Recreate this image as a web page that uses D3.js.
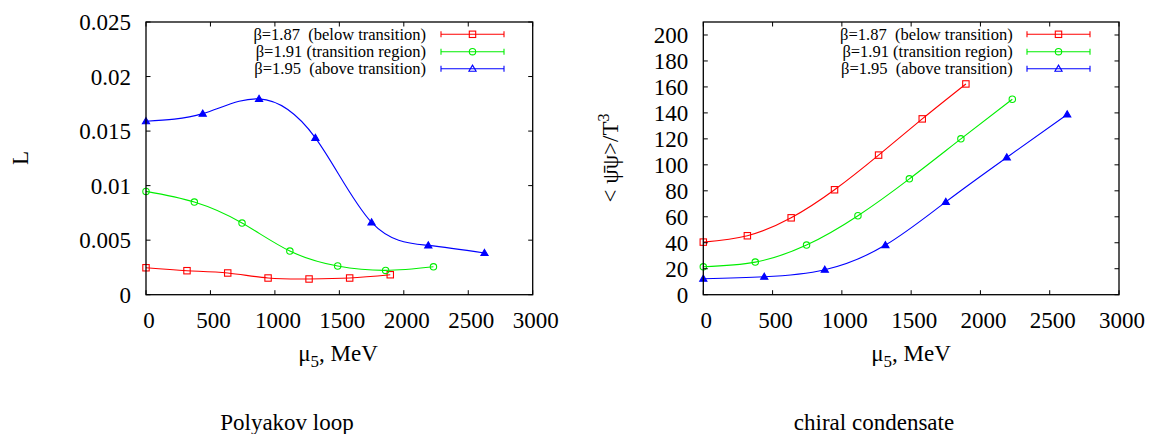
<!DOCTYPE html>
<html><head><meta charset="utf-8">
<script src="https://cdn.jsdelivr.net/npm/d3@7"></script>
<style>
html,body{margin:0;padding:0;background:#fff;}
svg{display:block;}
svg text{font-family:'Liberation Serif','DejaVu Serif',serif;fill:#000;white-space:pre;}
</style></head>
<body>
<svg id="chart" width="1150" height="434" font-family="Liberation Serif, DejaVu Serif, serif"></svg>
<script>
// ---- data ----
const seriesNames = ["β=1.87  (below transition)", "β=1.91 (transition region)", "β=1.95  (above transition)"];
const seriesColors = ["#ff0000", "#00ee00", "#0000ff"];
const mu5Red   = [0, 318, 634, 947, 1265, 1580, 1895];
const mu5Green = [0, 375, 745, 1116, 1487, 1859, 2230];
const mu5Blue  = [0, 440, 877, 1314, 1750, 2190, 2626];
const loopRed   = [0.00247, 0.00220, 0.00199, 0.00153, 0.00144, 0.00153, 0.00183];
const loopGreen = [0.00947, 0.00849, 0.00657, 0.00400, 0.00263, 0.00223, 0.00256];
const loopBlue  = [0.0159, 0.0166, 0.01795, 0.01438, 0.00663, 0.00452, 0.00382];
const condRed   = [40.5, 45.4, 59.2, 80.8, 107.5, 135.4, 162.3];
const condGreen = [21.5, 25.1, 38.2, 60.8, 89.2, 120.0, 150.5];
const condBlue  = [12.3, 13.8, 19.2, 38.2, 71.5, 105.7, 138.8];
const xTicks = [0, 500, 1000, 1500, 2000, 2500, 3000];
const loopTicks = [0, 0.005, 0.01, 0.015, 0.02, 0.025];
const loopTickLabels = ["0", "0.005", "0.01", "0.015", "0.02", "0.025"];
const condTicks = [0, 20, 40, 60, 80, 100, 120, 140, 160, 180, 200];

const FONT = "Liberation Serif, DejaVu Serif, serif";
const svg = d3.select("#chart");

function txt(g) { return g.append("text").attr("font-family", FONT); }

function panel(opt) {
  const g = svg.append("g");
  const x = d3.scaleLinear().domain([0, 3000]).range([opt.left, opt.right]);
  const y = d3.scaleLinear().domain(opt.ydomain).range([opt.bottom, opt.top]);
  const tl = 4.5;

  const markers = ["square", "circle", "triangle"];
  opt.series.forEach((s, i) => {
    const pts = s.x.map((v, k) => [v, s.y[k]]);
    const line = d3.line().x(d => x(d[0])).y(d => y(d[1])).curve(d3.curveNatural);
    g.append("path").attr("d", line(pts)).attr("fill", "none")
      .attr("stroke", seriesColors[i]).attr("stroke-width", 1.1);
    pts.forEach(p => drawMarker(g, markers[i], x(p[0]), y(p[1]), seriesColors[i], false));
  });

  g.append("rect").attr("x", opt.left).attr("y", opt.top)
    .attr("width", opt.right - opt.left).attr("height", opt.bottom - opt.top)
    .attr("fill", "none").attr("stroke", "#000").attr("stroke-width", 1.3);

  xTicks.forEach(t => {
    const px = x(t);
    g.append("line").attr("x1", px).attr("x2", px).attr("y1", opt.bottom).attr("y2", opt.bottom - tl).attr("stroke", "#000");
    g.append("line").attr("x1", px).attr("x2", px).attr("y1", opt.top).attr("y2", opt.top + tl).attr("stroke", "#000");
    txt(g).attr("x", px + 3).attr("y", 328).attr("text-anchor", "middle")
      .attr("font-size", 23).text(t);
  });
  opt.yticks.forEach((t, k) => {
    const py = y(t);
    g.append("line").attr("x1", opt.left).attr("x2", opt.left + tl).attr("y1", py).attr("y2", py).attr("stroke", "#000");
    g.append("line").attr("x1", opt.right).attr("x2", opt.right - tl).attr("y1", py).attr("y2", py).attr("stroke", "#000");
    txt(g).attr("x", opt.left - 15).attr("y", py + 8).attr("text-anchor", "end")
      .attr("font-size", 23).text(opt.ytickLabels ? opt.ytickLabels[k] : t);
  });

  const xl = txt(g).attr("x", opt.xlabelX).attr("y", 361).attr("text-anchor", "middle").attr("font-size", 23);
  xl.append("tspan").text("μ");
  xl.append("tspan").attr("font-size", 17).attr("dy", 6).text("5");
  xl.append("tspan").attr("dy", -6).text(", MeV");

  txt(g).attr("x", opt.captionX).attr("y", 430).attr("text-anchor", "middle")
    .attr("font-size", 23).text(opt.caption);

  const rows = [34.3, 51.7, 68.7];
  seriesNames.forEach((n, i) => {
    txt(g).attr("x", opt.legTextX).attr("y", rows[i] + 5.5).attr("text-anchor", "end")
      .attr("font-size", 16.5).attr("xml:space", "preserve").text(n);
    g.append("line").attr("x1", opt.legX1).attr("x2", opt.legX2).attr("y1", rows[i]).attr("y2", rows[i])
      .attr("stroke", seriesColors[i]).attr("stroke-width", 1.1);
    [opt.legX1, opt.legX2].forEach(ex => g.append("line").attr("x1", ex).attr("x2", ex)
      .attr("y1", rows[i] - 3).attr("y2", rows[i] + 3).attr("stroke", seriesColors[i]).attr("stroke-width", 1.1));
    drawMarker(g, markers[i], (opt.legX1 + opt.legX2) / 2, rows[i], seriesColors[i], true);
  });
  return g;
}

function drawMarker(g, type, cx, cy, color, legend) {
  if (type === "square") {
    g.append("rect").attr("x", cx - 3.2).attr("y", cy - 3.2).attr("width", 6.4).attr("height", 6.4)
      .attr("fill", "none").attr("stroke", color).attr("stroke-width", 1.1);
  } else if (type === "circle") {
    g.append("circle").attr("cx", cx).attr("cy", cy).attr("r", 3.2)
      .attr("fill", "none").attr("stroke", color).attr("stroke-width", 1.1);
  } else {
    const s = 3.6;
    g.append("path").attr("d", `M${cx},${cy - s}L${cx + s},${cy + s * 0.7}L${cx - s},${cy + s * 0.7}Z`)
      .attr("fill", legend ? "none" : color).attr("stroke", color).attr("stroke-width", 1.1);
  }
}

panel({
  left: 146, right: 532.7, top: 22, bottom: 294.7,
  ydomain: [0, 0.025], yticks: loopTicks, ytickLabels: loopTickLabels,
  series: [{x: mu5Red, y: loopRed}, {x: mu5Green, y: loopGreen}, {x: mu5Blue, y: loopBlue}],
  xlabelX: 338, captionX: 287, caption: "Polyakov loop",
  legTextX: 426, legX1: 441, legX2: 504
});
panel({
  left: 703.3, right: 1119, top: 22, bottom: 294.7,
  ydomain: [0, 210], yticks: condTicks,
  series: [{x: mu5Red, y: condRed}, {x: mu5Green, y: condGreen}, {x: mu5Blue, y: condBlue}],
  xlabelX: 911, captionX: 874, caption: "chiral condensate",
  legTextX: 1012.7, legX1: 1027, legX2: 1090
});

txt(svg).attr("transform", "translate(28,158) rotate(-90)").attr("text-anchor", "middle")
  .attr("font-size", 23).text("L");
const yl = txt(svg).attr("transform", "translate(618,158) rotate(-90)").attr("text-anchor", "middle")
  .attr("font-size", 23);
yl.append("tspan").text("< ");
yl.append("tspan").text("ψ\u0304ψ>/T");
yl.append("tspan").attr("font-size", 16).attr("dy", -9).text("3");
</script>
</body></html>
